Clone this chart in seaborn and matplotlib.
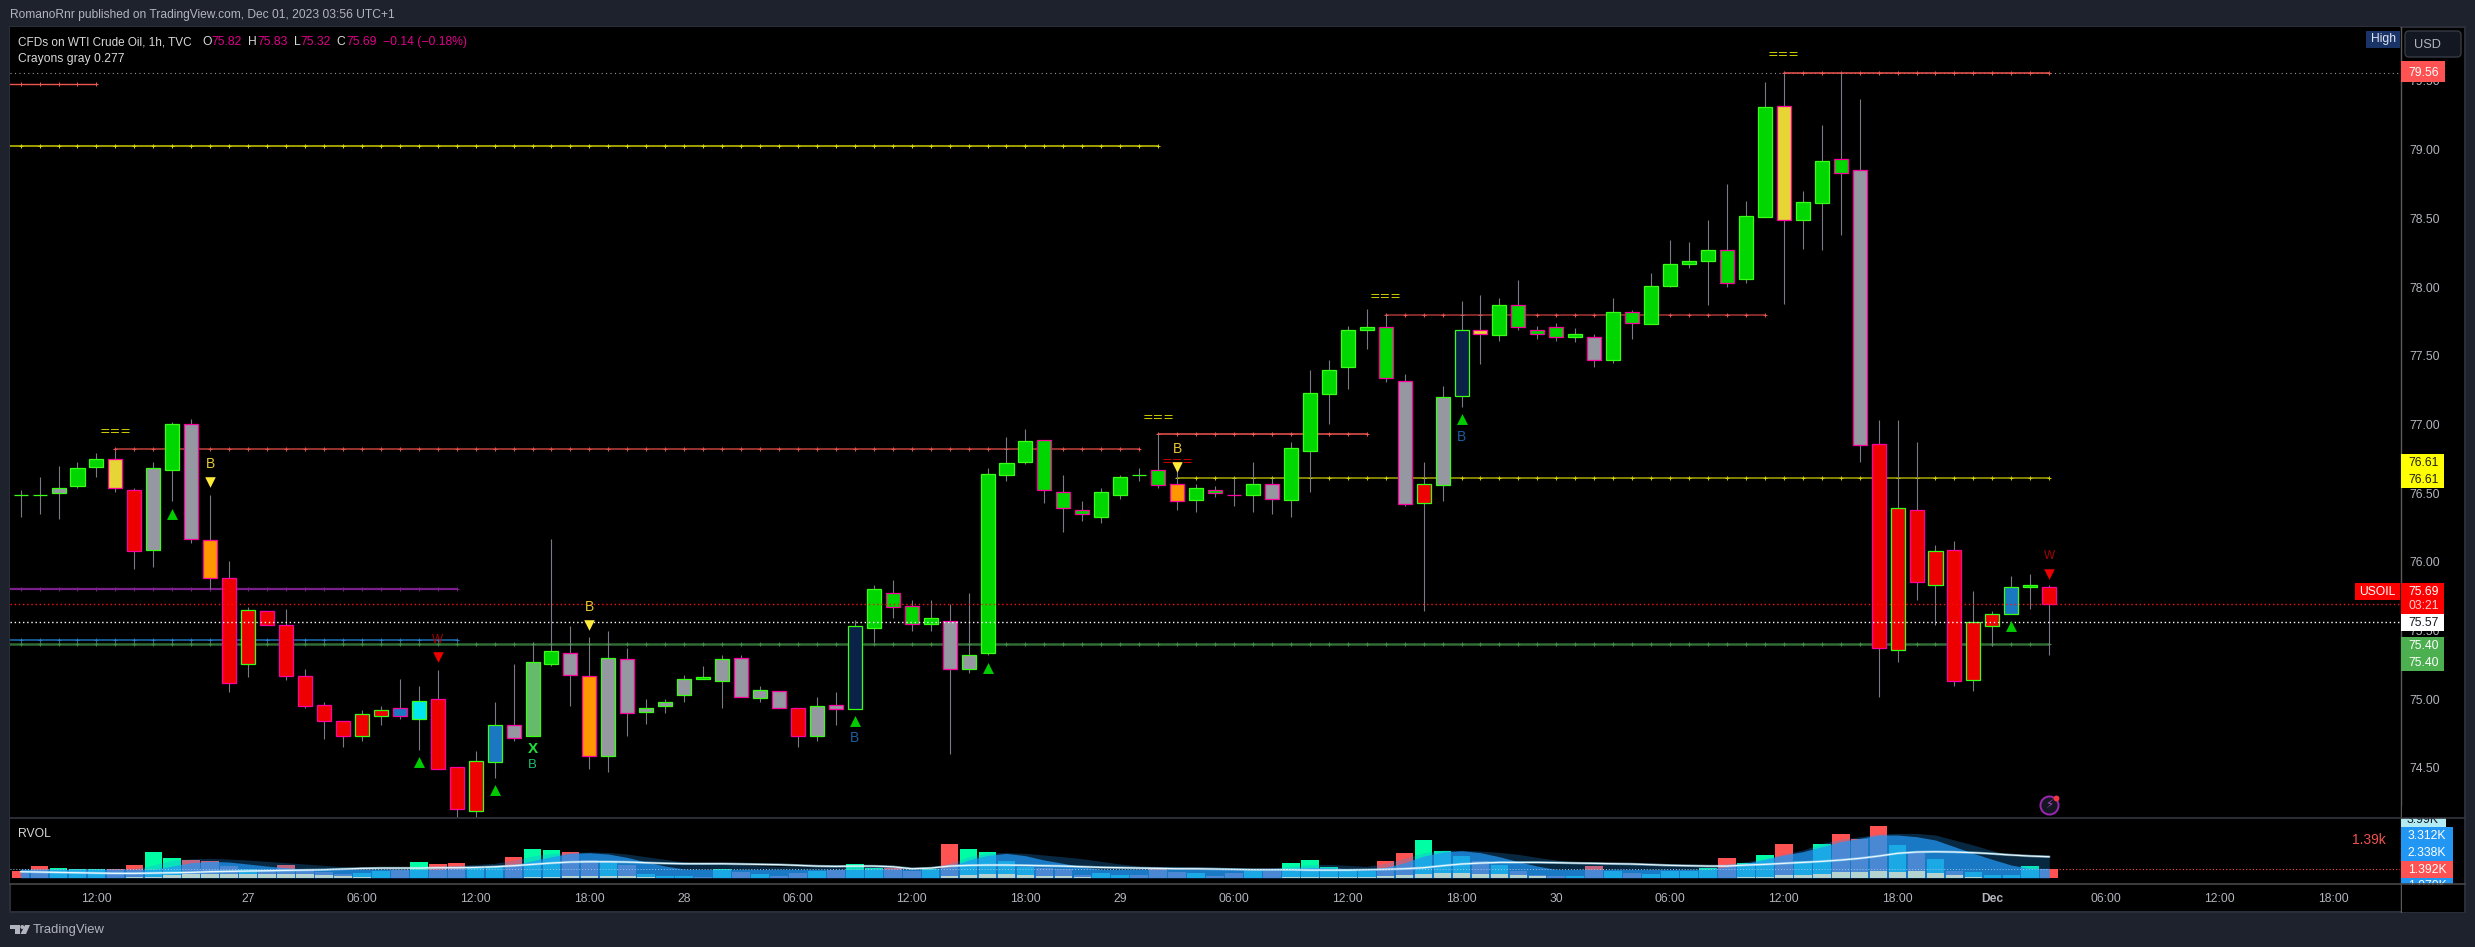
import numpy as np
import pandas as pd
import matplotlib.pyplot as plt
from matplotlib.patches import Rectangle, FancyBboxPatch, Polygon, Circle
import seaborn as sns

# candle values
high = [76.52,76.62,76.70,76.73,76.79,76.81,76.54,76.73,77.02,77.04,
        76.49,76.01,75.67,75.64,75.66,75.22,74.98,74.84,74.92,74.95,
        75.15,75.10,75.21,74.51,74.62,74.98,75.26,75.42,76.17,75.53,
        75.45,75.50,75.37,75.00,75.00,75.18,75.24,75.32,75.32,75.10,
        75.06,74.94,75.02,75.05,75.58,75.83,75.87,75.72,75.72,75.69,
        75.77,76.68,76.91,76.97,76.89,76.63,76.44,76.54,76.63,76.68,
        76.93,76.72,76.57,76.55,76.61,76.73,76.61,76.87,77.40,77.47,
        77.72,77.84,77.80,77.37,76.73,77.28,77.90,77.94,77.92,78.05,
        77.72,77.74,77.70,77.66,77.92,77.83,78.10,78.34,78.33,78.49,
        78.75,78.63,79.49,79.56,78.70,79.18,79.56,79.37,77.03,77.03,
        76.87,76.12,76.15,75.79,75.64,75.90,75.91,75.83]
low = [76.33,76.35,76.31,76.54,76.62,76.51,75.95,75.96,76.44,76.14,
       75.80,75.05,75.16,75.54,75.14,74.94,74.71,74.65,74.70,74.81,
       74.86,74.63,74.49,74.14,74.14,74.43,74.70,74.73,75.24,74.95,
       74.49,74.47,74.73,74.82,74.90,74.98,75.15,74.94,75.02,74.98,
       74.94,74.65,74.70,74.81,74.93,75.42,75.59,75.50,75.50,74.60,
       75.19,75.32,76.59,76.71,76.43,76.22,76.30,76.28,76.46,76.59,
       76.54,76.38,76.36,76.47,76.41,76.36,76.35,76.33,76.51,77.00,
       77.26,77.55,77.31,76.41,75.64,76.44,77.13,77.44,77.61,77.69,
       77.62,77.61,77.60,77.42,77.45,77.62,77.73,78.00,78.14,77.87,
       78.00,78.03,78.51,77.88,78.28,78.27,78.38,76.73,75.02,75.27,
       75.72,75.54,75.10,75.06,75.39,75.62,75.66,75.32]
body_top = [76.49,76.49,76.54,76.68,76.75,76.75,76.52,76.68,77.00,77.00,
            76.16,75.88,75.65,75.64,75.54,75.17,74.96,74.84,74.89,74.92,
            74.94,74.99,75.00,74.51,74.55,74.81,74.81,75.27,75.35,75.34,
            75.17,75.30,75.29,74.94,74.98,75.15,75.16,75.29,75.30,75.07,
            75.06,74.94,74.95,74.96,75.53,75.80,75.77,75.68,75.59,75.57,
            75.32,76.64,76.72,76.88,76.89,76.51,76.38,76.51,76.62,76.63,
            76.67,76.57,76.54,76.52,76.49,76.57,76.57,76.83,77.23,77.40,
            77.69,77.71,77.71,77.32,76.57,77.20,77.69,77.69,77.87,77.87,
            77.69,77.71,77.66,77.64,77.82,77.82,78.01,78.17,78.19,78.27,
            78.27,78.52,79.31,79.32,78.62,78.92,78.93,78.85,76.86,76.39,
            76.38,76.08,76.09,75.56,75.62,75.82,75.83,75.82]
body_bottom = [76.49,76.49,76.50,76.55,76.69,76.54,76.08,76.09,76.67,76.17,
               75.88,75.12,75.26,75.54,75.17,74.95,74.84,74.73,74.73,74.88,
               74.88,74.86,74.49,74.20,74.19,74.54,74.72,74.73,75.26,75.18,
               74.59,74.59,74.90,74.91,74.95,75.03,75.15,75.13,75.02,75.01,
               74.94,74.73,74.73,74.93,74.93,75.52,75.67,75.55,75.55,75.22,
               75.22,75.34,76.63,76.73,76.52,76.39,76.35,76.33,76.49,76.63,
               76.56,76.44,76.45,76.50,76.49,76.49,76.46,76.45,76.81,77.22,
               77.42,77.69,77.34,76.42,76.43,76.56,77.21,77.66,77.65,77.71,
               77.66,77.64,77.64,77.47,77.47,77.74,77.73,78.01,78.17,78.19,
               78.03,78.06,78.51,78.49,78.49,78.61,78.83,76.85,75.37,75.36,
               75.85,75.83,75.13,75.14,75.53,75.62,75.82,75.69]

# one letter per candle
fill_codes = ('GGXGGYRXGX' 'ORRRRRRRRR' 'BCRRRBXMGX' 'OXXXXXGXXX' 'XRXXNGGGGX'
              'XGGGGGGGGG' 'GOGGGGXGGG' 'GGGXRXNYGG' 'GGGXGGGGGG' 'GGGYGGGXRR'
              'RRRRRBGR')
edge_codes = ('gggggmmggm' 'mmgmmmmmgg' 'mgmmggmggm' 'mgmgggggmg' 'mmgmggmmgm'
              'ggggmmmggg' 'mmgmmgmggg' 'ggmmgggmgm' 'mmgmgmgggg' 'mggmggmmmg'
              'mgmggggm')
fill_colors = {'G': '#00d600', 'R': '#ee0000', 'X': '#9598a1', 'O': '#ff9800', 'Y': '#e6d534',
               'B': '#1a78c2', 'C': '#00e5ee', 'N': '#0a2248', 'M': '#66bb6a'}
edge_colors = {'g': '#39ff14', 'm': '#ff00a0'}

# RVOL pane, in K
volume = [1.11,1.93,1.60,1.38,1.38,1.38,2.10,4.26,3.26,2.93,
          2.76,1.93,1.44,1.27,2.10,1.44,0.94,0.55,0.83,1.11,
          1.27,2.60,2.27,2.43,1.55,1.82,3.43,4.75,4.59,4.20,
          2.93,2.76,2.10,0.61,0.28,0.28,0.17,1.38,0.94,0.61,
          0.28,0.77,1.11,1.33,2.27,1.66,1.66,1.16,1.38,5.58,
          4.75,4.26,2.76,1.77,1.60,1.44,0.50,0.77,0.44,0.50,
          1.60,0.94,0.77,0.22,0.77,1.11,1.16,2.43,2.93,1.77,
          1.44,1.11,2.76,4.09,6.25,4.42,3.59,2.76,2.10,1.11,
          0.44,0.22,0.22,1.93,1.11,0.77,0.61,1.11,1.11,1.60,
          3.26,2.43,3.76,5.58,2.76,5.58,7.24,6.41,8.57,5.42,
          4.15,3.10,1.16,1.00,0.50,0.50,1.93,1.39]
volume_dir = ('rrgggrrggr' 'rrgrrrrrgg' 'rgrrggrggr' 'rgrgggrgrg' 'rrgrggrrgr'
              'ggggrrrggr' 'rrgrrgrggg' 'ggrrgggrgr' 'rrgrgrgggg' 'rggrggrrrg'
              'rgrggggr')
volume_base = [0,0,0,0,0,0,0.11,0.17,0.50,0.61,
               0.61,0.61,0.66,0.61,0.61,0.61,0.44,0.28,0.11,0,
               0,0,0,0,0,0,0,0.11,0.17,0.22,
               0.28,0.28,0.28,0.11,0,0,0,0,0,0,
               0,0,0,0,0,0,0,0,0,0.28,
               0.44,0.61,0.61,0.44,0.28,0.28,0.11,0,0,0,
               0,0,0,0,0,0,0,0.06,0.11,0.11,
               0.06,0.06,0.28,0.44,0.61,0.77,0.77,0.61,0.61,0.44,
               0.28,0,0,0,0,0,0,0,0,0,
               0,0.06,0.11,0.44,0.44,0.61,0.94,0.94,1.11,0.94,
               1.11,0.77,0.44,0.11,0,0,0,0]
wave_outer = [1.55,1.55,1.55,1.55,1.55,1.55,1.55,2.10,2.93,3.15,
              3.21,3.10,2.93,2.71,2.49,2.27,2.05,1.82,1.66,1.55,
              1.49,1.55,1.82,2.05,2.21,2.38,2.93,3.59,4.04,4.20,
              4.26,4.20,3.92,3.48,3.04,2.60,2.38,2.27,2.16,1.99,
              1.88,1.82,1.82,1.82,1.88,1.88,1.82,1.71,1.60,2.38,
              3.48,4.15,4.15,4.04,3.76,3.48,3.15,2.71,2.27,1.93,
              1.88,1.88,1.82,1.77,1.66,1.60,1.60,1.93,2.16,2.21,
              2.05,1.88,2.38,3.21,4.15,4.59,4.53,4.42,4.20,3.87,
              3.37,2.93,2.54,2.38,2.32,2.21,2.10,1.99,1.93,1.93,
              2.27,2.65,3.21,3.92,4.59,5.69,6.36,6.80,7.24,7.35,
              7.35,7.08,6.25,5.42,4.48,3.59,3.48,3.48]
wave_inner = [1.38,1.38,1.38,1.38,1.38,1.38,1.38,1.38,1.93,2.49,
              2.71,2.60,2.27,1.93,1.66,1.44,1.38,1.38,1.38,1.38,
              1.38,1.38,1.38,1.55,1.66,1.71,2.05,2.82,3.48,4.04,
              4.15,3.92,3.37,2.60,1.93,1.44,1.38,1.38,1.38,1.38,
              1.38,1.38,1.38,1.38,1.38,1.49,1.44,1.38,1.38,1.82,
              2.93,3.70,4.04,3.65,2.93,2.38,1.82,1.38,1.38,1.38,
              1.38,1.38,1.38,1.38,1.38,1.38,1.38,1.55,1.71,1.66,
              1.49,1.38,1.71,2.49,3.59,4.26,4.48,4.15,3.48,2.65,
              1.93,1.38,1.38,1.38,1.38,1.38,1.38,1.38,1.38,1.38,
              1.82,2.38,3.04,3.76,4.31,5.14,5.97,6.52,7.08,7.08,
              6.80,6.25,5.14,4.04,3.04,2.10,1.55,1.55]
volume_avg = [1.00,0.94,0.88,0.83,0.77,0.72,0.72,0.77,0.83,0.88,
              1.00,1.05,1.11,1.16,1.22,1.27,1.33,1.44,1.55,1.60,
              1.60,1.60,1.66,1.66,1.71,1.82,1.99,2.21,2.43,2.60,
              2.65,2.65,2.60,2.49,2.38,2.32,2.32,2.32,2.27,2.21,
              2.16,2.05,1.93,1.88,1.93,1.93,1.82,1.49,1.60,1.93,
              2.05,2.10,2.10,2.05,1.99,1.93,1.82,1.71,1.66,1.60,
              1.55,1.49,1.49,1.44,1.38,1.33,1.33,1.33,1.27,1.27,
              1.27,1.33,1.38,1.49,1.66,1.99,2.27,2.43,2.54,2.54,
              2.54,2.49,2.43,2.38,2.32,2.27,2.16,2.05,1.99,1.93,
              1.93,2.10,2.21,2.38,2.54,2.71,2.93,3.21,3.59,4.04,
              4.26,4.31,4.26,4.15,3.98,3.76,3.59,3.48]

# price levels: price, first bar, last bar, colour, width
levels = [(79.48, -1, 4, '#ef5350', 1.0),
          (79.03, -1, 60, '#c8c800', 1.1),
          (76.82, 5, 59, '#c0403c', 1.1),
          (75.80, -1, 23, '#7b1f8a', 1.6),
          (75.43, -1, 23, '#1e6fb5', 1.1),
          (75.40, -1, 107, '#2f6b35', 1.8),
          (79.56, 93, 107, '#ef5350', 1.1),
          (76.93, 60, 71, '#ef5350', 1.1),
          (76.61, 61, 107, '#a8a800', 1.1),
          (77.80, 72, 92, '#8c2e2c', 1.3)]
level_marks = {'#ef5350': '#f05a55', '#c8c800': '#d8d800', '#c0403c': '#e85450', '#7b1f8a': '#7b1f8a',
               '#1e6fb5': '#2478c4', '#2f6b35': '#3f9046', '#a8a800': '#d0d000', '#8c2e2c': '#e85450'}

# signals on the candles
up_bars = [8, 21, 25, 44, 51, 76, 105]
up_prices = [76.35, 74.54, 74.34, 74.84, 75.23, 77.04, 75.53]
warn_bars = [10, 30, 61]
warn_prices = [76.58, 75.54, 76.69]
warn_text_prices = [76.71, 75.67, 76.82]
down_bars = [22, 107]
down_prices = [75.31, 75.91]
down_text_prices = [75.43, 76.04]
buy_bars = [44, 76]
buy_prices = [74.72, 76.91]
equal_bars = [5, 60, 72, 93]
equal_prices = [76.95, 77.05, 77.93, 79.69]

price_ticks = [74.5, 75.0, 75.5, 76.0, 76.5, 77.0, 77.5, 78.0, 78.5, 79.0, 79.5]
time_bars = [4, 12, 18, 24, 30, 35, 41, 47, 53, 58, 64, 70, 76, 81, 87, 93, 99, 104, 110, 116, 122]
time_labels = ['12:00', '27', '06:00', '12:00', '18:00', '28', '06:00', '12:00', '18:00', '29', '06:00',
               '12:00', '18:00', '30', '06:00', '12:00', '18:00', 'Dec', '06:00', '12:00', '18:00']

sns.set_theme(style='ticks', rc={'axes.facecolor': 'black', 'figure.facecolor': '#1e222d'})
plt.rcParams['font.family'] = ['Liberation Sans', 'DejaVu Sans']

W, H = 2475, 947
TXT = '#b2b5be'
DARK = '#2a2e39'
MAGENTA = '#e0008c'
FS = 8.7


def pane(top, bottom, left=10, right=2400):
    return [left / W, 1 - bottom / H, (right - left) / W, (bottom - top) / H]


fig = plt.figure(figsize=(W / 100, H / 100), dpi=100)

# black panel behind everything
bg = fig.add_axes([0, 0, 1, 1], zorder=0)
bg.set_xlim(0, W)
bg.set_ylim(H, 0)
bg.axis('off')
bg.add_patch(Rectangle((10, 27), 2455, 885, fc='black', ec=DARK, lw=1.5))

ax = fig.add_axes(pane(27, 818), zorder=1)
vax = fig.add_axes(pane(818, 884), zorder=1, sharex=ax)

candles = pd.DataFrame({'bar': np.arange(len(high)), 'high': high, 'low': low,
                        'top': body_top, 'bottom': body_bottom})
candles['height'] = candles['top'] - candles['bottom']

for price, start, end, color, width in levels:
    xs = np.arange(start, end + 1)
    ax.plot(xs, [price] * len(xs), color=color, lw=width, zorder=1,
            marker='+', ms=3, mew=0.7, mec=level_marks[color])

ax.vlines(candles['bar'], candles['low'], candles['high'], color='#787b86', lw=0.8, zorder=1.5)

sns.barplot(data=candles, x='bar', y='height', bottom=candles['bottom'].values, native_scale=True,
            width=0.74, errorbar=None, color='white', linewidth=0.9, zorder=2, ax=ax)
for patch, f, e in zip(ax.patches, fill_codes, edge_codes):
    patch.set_facecolor(fill_colors[f])
    patch.set_edgecolor(edge_colors[e])

# last price, bid and high lines
ax.axhline(75.69, color='#ff1010', lw=1, ls=(0, (1, 2)), zorder=4)
ax.axhline(75.56, color='white', lw=1, ls=(0, (1, 2)), zorder=4)
ax.axhline(79.56, color='#9a9a9a', lw=0.8, ls=(0, (1, 3)), zorder=0.5)

sns.scatterplot(x=up_bars, y=up_prices, marker='^', s=62, color='#00cc00', linewidth=0, zorder=6, ax=ax)
sns.scatterplot(x=warn_bars, y=warn_prices, marker='v', s=58, color='#ffeb3b', linewidth=0, zorder=6, ax=ax)
sns.scatterplot(x=down_bars, y=down_prices, marker='v', s=58, color='#ee0000', linewidth=0, zorder=6, ax=ax)

for b, p in zip(warn_bars, warn_text_prices):
    ax.text(b, p, 'B', color='#e6c934', fontsize=10, ha='center', va='center', zorder=6)
for b, p in zip(down_bars, down_text_prices):
    ax.text(b, p, 'W', color='#a80000', fontsize=8.5, ha='center', va='center', zorder=6)
for b, p in zip(buy_bars, buy_prices):
    ax.text(b, p, 'B', color='#1a5fa0', fontsize=10, ha='center', va='center', zorder=6)
for b, p in zip(equal_bars, equal_prices):
    ax.text(b, p, '===', color='#d4d000', fontsize=9, family='DejaVu Sans', ha='center', va='center', zorder=6)
ax.text(61, 76.73, '===', color='#d00000', fontsize=9, family='DejaVu Sans', ha='center', va='center', zorder=5)
ax.text(27, 74.64, 'X', color='#22e03a', fontsize=11, fontweight='bold', ha='center', va='center', zorder=6)
ax.text(27, 74.52, 'B', color='#20c070', fontsize=9.5, ha='center', va='center', zorder=6)

ax.set_xlim(-0.56, 125.5)
ax.set_ylim(74.136, 79.893)
ax.set(xlabel='', ylabel='')
ax.yaxis.tick_right()
ax.set_yticks(price_ticks)
ax.set_yticklabels([f'{p:.2f}' for p in price_ticks])
ax.tick_params(axis='y', length=0, pad=6.5, labelsize=FS, labelcolor=TXT)
ax.tick_params(axis='x', length=0, labelbottom=False)
for s in ax.spines.values():
    s.set_visible(False)

# RVOL pane
rvol = pd.DataFrame({'bar': np.arange(len(volume)), 'volume': volume, 'base': volume_base})
sns.barplot(data=rvol, x='bar', y='volume', native_scale=True, width=0.93, errorbar=None, color='white',
            linewidth=0, zorder=2, ax=vax)
for patch, d in zip(vax.patches, volume_dir):
    patch.set_facecolor('#00ffa5' if d == 'g' else '#ff5252')
vax.fill_between(rvol['bar'], 0, wave_outer, color='#2196f3', alpha=0.27, lw=0, zorder=3)
vax.fill_between(rvol['bar'], 0, wave_inner, color='#2196f3', alpha=0.74, lw=0, zorder=3)
sns.barplot(data=rvol, x='bar', y='base', native_scale=True, width=0.93, errorbar=None, color='#b4d2cf',
            saturation=1, linewidth=0, zorder=4, ax=vax)
vax.plot(rvol['bar'], volume_avg, color='#8fd6f5', lw=1.8, alpha=0.6, zorder=5)
vax.plot(rvol['bar'], volume_avg, color='#e8f6fb', lw=0.9, zorder=5)
vax.plot([-0.56, 107], [1.392, 1.392], color='#9fc4e8', lw=0.7, ls=(0, (1, 2)), zorder=5)
vax.plot([107, 125.5], [1.392, 1.392], color='#ff5252', lw=0.8, ls=(0, (1, 2)), zorder=5)

vax.set_xlim(-0.56, 125.5)
vax.set_ylim(-1.04, 9.9)
vax.set(xlabel='', ylabel='')
vax.set_yticks([])
vax.set_xticks(time_bars)
vax.set_xticklabels(time_labels)
vax.tick_params(axis='x', length=0, pad=6.5, labelsize=FS, labelcolor=TXT)
for t in vax.get_xticklabels():
    if t.get_text() == 'Dec':
        t.set_fontweight('bold')
for s in vax.spines.values():
    s.set_visible(False)

# frame, labels and boxes, in figure pixels
top = fig.add_axes([0, 0, 1, 1], zorder=5)
top.patch.set_alpha(0)
top.set_xlim(0, W)
top.set_ylim(H, 0)
top.axis('off')


def box(x0, y0, x1, y1, color, z=2):
    top.add_patch(Rectangle((x0, y0), x1 - x0, y1 - y0, fc=color, ec='none', zorder=z))


def label(x, y, s, color=TXT, size=FS, ha='left', **kw):
    top.text(x, y, s, color=color, fontsize=size, ha=ha, va='center', zorder=3, **kw)


top.plot([10, 2401], [818, 818], color='#33363f', lw=1.2, zorder=1)
top.plot([10, 2401], [884, 884], color='#484848', lw=1.2, zorder=1)
top.plot([2401, 2401], [27, 912], color='#5a5a5a', lw=1, zorder=1)
top.plot([2401, 2465], [818, 818], color='#33363f', lw=1.2, zorder=6)
top.plot([2401, 2465], [884, 884], color='#484848', lw=1.2, zorder=6)

label(10, 15, 'RomanoRnr published on TradingView.com, Dec 01, 2023 03:56 UTC+1', size=8.65)
label(18, 42, 'CFDs on WTI Crude Oil, 1h, TVC', color='#d8d8d8', size=8.5)
for x, s, c in [(202, 'O', '#d8d8d8'), (211.5, '75.82', MAGENTA), (248, 'H', '#d8d8d8'), (257.4, '75.83', MAGENTA),
                (293.8, 'L', '#d8d8d8'), (300.5, '75.32', MAGENTA), (336.5, 'C', '#d8d8d8'), (346, '75.69', MAGENTA),
                (382.8, '\u22120.14 (\u22120.18%)', MAGENTA)]:
    label(x, 42, s, color=c, size=8.7)
label(18, 59, 'Crayons gray 0.277', color='#d8d8d8', size=8.7)
label(18, 834, 'RVOL', color='#d8d8d8', size=8.7)

# high tag and currency button
box(2366, 31, 2400, 48, '#1a3468')
label(2383, 39, 'High', color='#dfe3ee', ha='center')
top.add_patch(FancyBboxPatch((2407, 33), 52, 22, boxstyle='round,pad=2,rounding_size=4', fc='#131722', ec='#363a45', lw=1, zorder=2))
label(2427, 44.5, 'USD', size=9.2, ha='center')

# price axis tags
box(2401, 61, 2445, 82, '#ff5252')
label(2424, 73, '79.56', color='white', ha='center')
box(2401, 454, 2444, 488, '#ffff00')
label(2424, 463, '76.61', color='#202020', ha='center')
label(2424, 480, '76.61', color='#202020', ha='center')
box(2354.5, 583, 2400, 600, '#ff0000')
label(2377, 591.5, 'USOIL', color='white', ha='center')
box(2401, 583, 2444, 614, '#ff0000')
label(2424, 591.5, '75.69', color='white', ha='center')
label(2424, 606, '03:21', color='#ffd0d0', ha='center')
box(2401, 614, 2444, 631, 'white')
label(2424, 622.5, '75.57', color='#131722', ha='center')
box(2401, 637, 2444, 671, '#4caf50')
label(2424, 645.5, '75.40', color='white', ha='center')
label(2424, 662.5, '75.40', color='white', ha='center')

# RVOL axis tags
box(2401, 818, 2445.5, 827, '#b2ebf2')
label(2423, 820, '3.99K', color='#131722', ha='center')
box(2401, 827, 2452.5, 861, '#2196f3')
label(2427, 835.5, '3.312K', color='white', ha='center')
label(2427, 852.5, '2.338K', color='white', ha='center')
box(2401, 861, 2452.5, 878, '#ff5252')
label(2427, 869.5, '1.392K', color='white', ha='center')
box(2401, 878, 2452.5, 884, '#2196f3')
label(2427, 886, '1.070K', color='white', ha='center')
box(2401.5, 806, 2464, 817.5, 'black', z=4)
box(2401.5, 884.5, 2464, 911.5, 'black', z=4)
label(2352, 840, '1.39k', color='#ef5350', size=10)

# event icon
top.scatter([2049], [805], s=170, fc='#131722', ec='#9c27b0', lw=1.4, zorder=3)
label(2049, 805, '\u26a1', color='#ab47bc', size=8.5, ha='center', family='DejaVu Sans')
top.scatter([2056], [798], s=18, color='#f23645', lw=0, zorder=4)

# footer, logo drawn from three shapes
top.add_patch(Polygon([(10, 925), (19.5, 925), (19.5, 934), (15, 934), (15, 929), (10, 929)], fc=TXT, ec='none'))
top.add_patch(Circle((22.3, 927), 2, fc=TXT, ec='none'))
top.add_patch(Polygon([(25, 925), (30, 925), (26, 934), (20.5, 934)], fc=TXT, ec='none'))
label(33, 930, 'TradingView', color=TXT, size=9.4)

fig.savefig('out.png', dpi=100)
